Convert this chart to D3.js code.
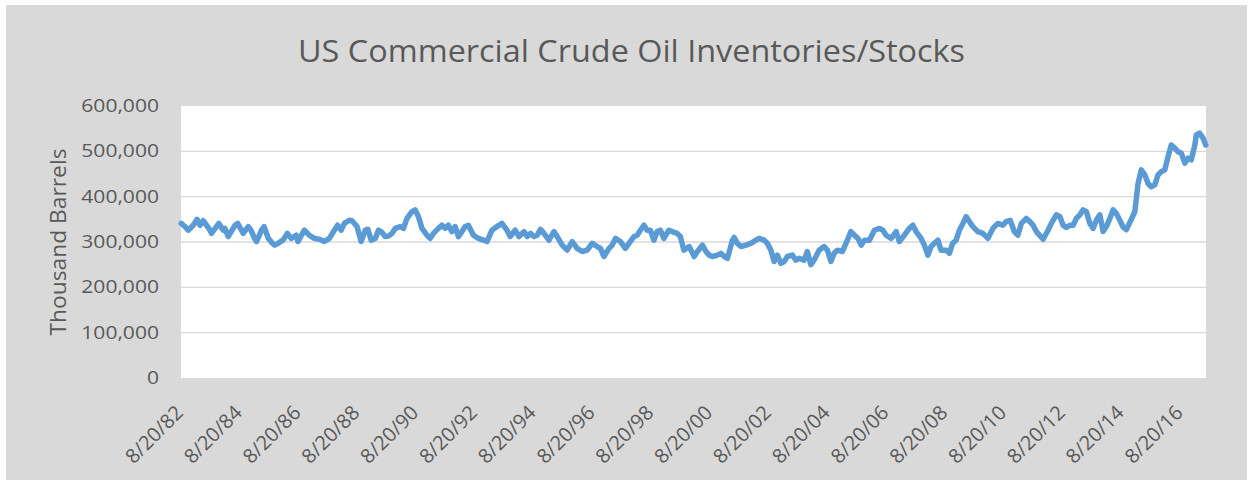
<!DOCTYPE html>
<html>
<head>
<meta charset="utf-8">
<script src="https://cdn.jsdelivr.net/npm/d3@7"></script>
<style>
  html, body { margin: 0; padding: 0; background: #ffffff; }
  svg { display: block; }
  text { font-family: "Open Sans", "Noto Sans", sans-serif; fill: #595959; }
</style>
</head>
<body>
<svg id="chart" width="1253" height="485"></svg>
<script>
// ---- Data ----
const chartTitle = "US Commercial Crude Oil Inventories/Stocks";
const yAxisTitle = "Thousand Barrels";

// time of each reading, in decimal years
const sampleYears = [
  1982.64,1982.77,1982.88,1983.05,1983.18,1983.28,1983.39,1983.62,1983.67,1983.84,1983.92,
  1984.07,1984.13,1984.24,1984.47,1984.56,1984.75,1984.92,
  1985.01,1985.15,1985.20,1985.37,1985.46,1985.60,1985.74,1985.82,1985.93,
  1986.10,1986.25,1986.38,1986.55,1986.61,1986.83,
  1987.00,1987.17,1987.34,1987.51,1987.68,1987.85,1987.96,
  1988.08,1988.19,1988.36,1988.45,1988.62,1988.76,1988.90,1988.99,
  1989.10,1989.24,1989.35,1989.44,1989.58,1989.69,1989.81,1989.92,
  1990.09,1990.20,1990.32,1990.49,1990.60,1990.71,1990.83,
  1991.00,1991.11,1991.22,1991.39,1991.51,1991.62,1991.73,1991.85,1991.96,
  1992.07,1992.19,1992.30,1992.41,1992.58,1992.75,1992.92,
  1993.04,1993.21,1993.38,1993.55,1993.72,1993.83,
  1994.00,1994.13,1994.30,1994.41,1994.52,1994.64,1994.75,1994.86,1994.98,
  1995.15,1995.32,1995.43,1995.60,1995.77,1995.94,
  1996.11,1996.28,1996.45,1996.62,1996.79,1996.90,
  1997.02,1997.19,1997.30,1997.41,1997.58,1997.75,1997.87,
  1998.04,1998.15,1998.26,1998.38,1998.49,1998.60,1998.72,1998.83,1998.94,
  1999.06,1999.23,1999.34,1999.51,1999.62,1999.74,1999.92,
  2000.09,2000.20,2000.37,2000.49,2000.60,2000.71,2000.88,
  2001.00,2001.11,2001.22,2001.39,2001.45,2001.56,2001.68,2001.85,
  2002.02,2002.19,2002.30,2002.47,2002.58,2002.70,2002.81,2002.92,
  2003.04,2003.15,2003.26,2003.43,2003.55,2003.66,2003.83,2003.94,
  2004.06,2004.17,2004.34,2004.51,2004.62,2004.74,2004.85,2004.96,
  2005.13,2005.30,2005.42,2005.54,2005.66,2005.77,2005.88,
  2006.05,2006.22,2006.39,2006.51,2006.62,2006.79,2006.96,
  2007.07,2007.24,2007.41,2007.53,2007.64,2007.81,2007.92,
  2008.04,2008.15,2008.26,2008.38,2008.49,2008.66,2008.77,2008.88,
  2009.00,2009.11,2009.23,2009.34,2009.45,2009.57,2009.74,2009.91,
  2010.08,2010.25,2010.42,2010.59,2010.70,2010.84,2010.98,
  2011.10,2011.22,2011.39,2011.51,2011.62,2011.73,2011.96,
  2012.13,2012.24,2012.41,2012.53,2012.64,2012.75,2012.87,2012.98,
  2013.09,2013.21,2013.32,2013.43,2013.55,2013.66,2013.77,2013.89,
  2014.00,2014.11,2014.23,2014.34,2014.45,2014.57,2014.68,2014.79,2014.96,
  2015.08,2015.19,2015.30,2015.42,2015.53,2015.64,2015.76,2015.87,2015.98,
  2016.10,2016.21,2016.32,2016.44,2016.55,2016.66,2016.78,2016.89,
  2017.00,2017.12,2017.17,2017.28,2017.40,2017.49
];

// inventories, thousand barrels
const inventories = [
  341000,334000,326000,337000,350000,337000,347000,326000,319000,334000,341000,
  326000,330000,312000,337000,341000,319000,334000,
  326000,306000,301000,326000,334000,308000,297000,293000,297000,
  304000,319000,308000,315000,301000,326000,
  315000,308000,306000,301000,308000,326000,337000,
  326000,341000,348000,347000,334000,301000,326000,328000,
  304000,308000,326000,323000,312000,313000,319000,330000,
  334000,330000,352000,367000,371000,356000,330000,
  315000,308000,319000,330000,337000,330000,337000,323000,334000,
  312000,323000,334000,337000,315000,308000,304000,
  301000,326000,334000,341000,326000,312000,
  326000,312000,323000,312000,319000,312000,315000,328000,319000,
  304000,323000,312000,293000,282000,301000,
  286000,279000,282000,297000,290000,286000,
  268000,286000,293000,308000,301000,286000,297000,
  312000,315000,326000,337000,326000,326000,304000,323000,326000,
  308000,326000,323000,319000,312000,282000,290000,
  268000,279000,293000,279000,271000,268000,271000,
  275000,268000,264000,304000,310000,297000,290000,293000,
  297000,304000,308000,304000,297000,282000,257000,271000,
  253000,257000,268000,271000,260000,264000,260000,279000,
  250000,260000,282000,290000,282000,257000,275000,282000,
  279000,304000,323000,315000,308000,293000,304000,
  304000,326000,330000,326000,315000,308000,323000,
  301000,315000,330000,337000,323000,308000,293000,
  271000,290000,297000,304000,282000,282000,275000,297000,
  304000,326000,341000,356000,345000,334000,323000,319000,
  308000,330000,341000,337000,345000,348000,323000,
  315000,341000,352000,345000,337000,323000,306000,
  326000,341000,360000,356000,337000,332000,337000,337000,
  352000,360000,371000,367000,341000,330000,348000,360000,
  323000,334000,352000,371000,363000,348000,333000,327000,350000,
  367000,429000,459000,448000,429000,422000,426000,448000,455000,
  459000,488000,514000,507000,499000,496000,474000,485000,
  481000,514000,536000,540000,529000,514000
];

const xTickLabels = ["8/20/82","8/20/84","8/20/86","8/20/88","8/20/90","8/20/92",
  "8/20/94","8/20/96","8/20/98","8/20/00","8/20/02","8/20/04","8/20/06",
  "8/20/08","8/20/10","8/20/12","8/20/14","8/20/16"];
const xTickYears = [1982,1984,1986,1988,1990,1992,1994,1996,1998,2000,2002,2004,2006,2008,2010,2012,2014,2016];
const yTicks = [0,100000,200000,300000,400000,500000,600000];

// ---- Helpers ----
function yearToDate(y) {
  const yr = Math.floor(y);
  const s = Date.UTC(yr, 0, 1), e = Date.UTC(yr + 1, 0, 1);
  return new Date(s + (y - yr) * (e - s));
}
const series = sampleYears.map((yv, i) => ({ date: yearToDate(yv), value: inventories[i] }));

// ---- Layout ----
const plot = { left: 181, right: 1206, top: 106, bottom: 378 };
const stretch = 1.17; // horizontal text stretch seen in the reference

const svg = d3.select("#chart");

svg.append("rect").attr("x", 6).attr("y", 5).attr("width", 1241).attr("height", 475)
  .attr("fill", "#d9d9d9");
svg.append("rect").attr("x", plot.left).attr("y", plot.top)
  .attr("width", plot.right - plot.left).attr("height", plot.bottom - plot.top)
  .attr("fill", "#ffffff");

const x = d3.scaleUtc()
  .domain([new Date(Date.UTC(1982, 7, 20)), yearToDate(2017.50)])
  .range([plot.left, plot.right]);
const y = d3.scaleLinear().domain([0, 600000]).range([plot.bottom, plot.top]);

// gridlines
svg.append("g").selectAll("line").data(yTicks.filter(d => d > 0 && d < 600000)).join("line")
  .attr("x1", plot.left).attr("x2", plot.right)
  .attr("y1", d => y(d)).attr("y2", d => y(d))
  .attr("stroke", "#d9d9d9").attr("stroke-width", 1.3);

// y axis
const yAxis = svg.append("g").attr("transform", `translate(${plot.left},0)`)
  .call(d3.axisLeft(y).tickValues(yTicks).tickFormat(d3.format(",")).tickSize(0).tickPadding(22));
yAxis.select(".domain").remove();
yAxis.selectAll("text")
  .style("font-family", '"Open Sans", sans-serif')
  .style("font-size", "18px").attr("fill", "#595959").attr("dy", "0.30em")
  .each(function () {
    const w = this.getComputedTextLength();
    this.setAttribute("textLength", w * stretch);
    this.setAttribute("lengthAdjust", "spacingAndGlyphs");
  });

// x axis
const tickDates = xTickYears.map(yr => new Date(Date.UTC(yr, 7, 20)));
const xAxis = svg.append("g").attr("transform", `translate(0,${plot.bottom})`)
  .call(d3.axisBottom(x).tickValues(tickDates)
    .tickFormat((d, i) => xTickLabels[i]).tickSize(0));
xAxis.select(".domain").remove();
xAxis.selectAll("text")
  .style("font-family", '"Open Sans", sans-serif')
  .style("font-size", "20px").attr("fill", "#555555")
  .style("font-weight", "500")
  .attr("text-anchor", "end")
  .attr("x", 0).attr("y", 0).attr("dy", "0.35em")
  .attr("transform", "translate(-2,31) rotate(-45)");

// line
const line = d3.line().x(d => x(d.date)).y(d => y(d.value));
svg.append("path").datum(series)
  .attr("d", line)
  .attr("fill", "none")
  .attr("stroke", "#5b9bd5")
  .attr("stroke-width", 5.5)
  .attr("stroke-linejoin", "round")
  .attr("stroke-linecap", "round");

// title
svg.append("text").attr("x", 631.5).attr("y", 61.5)
  .attr("text-anchor", "middle")
  .style("font-size", "31px")
  .attr("textLength", 667).attr("lengthAdjust", "spacingAndGlyphs")
  .text(chartTitle);

// y axis title
svg.append("text")
  .attr("transform", "translate(66,242) rotate(-90)")
  .attr("text-anchor", "middle")
  .style("font-size", "21px")
  .attr("textLength", 187).attr("lengthAdjust", "spacingAndGlyphs")
  .text(yAxisTitle);
</script>
</body>
</html>
